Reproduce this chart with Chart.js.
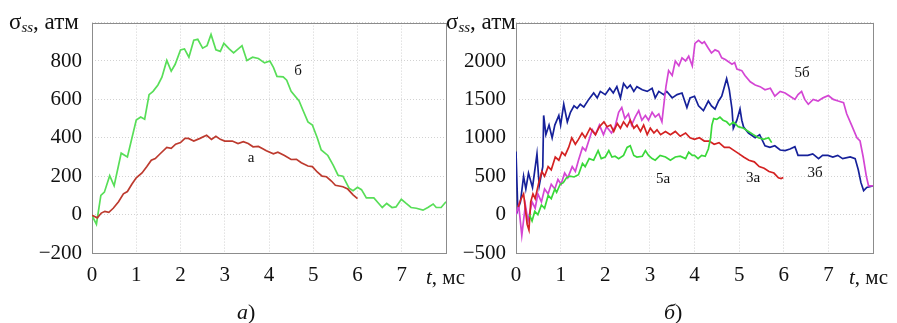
<!DOCTYPE html>
<html lang="ru">
<head>
    <meta charset="UTF-8">
    <title>σss(t)</title>
    <script src="https://cdn.jsdelivr.net/npm/chart.js"></script>
    <style>
        body { margin: 0; background: #fff; }
        #wrap { position: relative; width: 897px; height: 323px; overflow: hidden; font-family: "Liberation Serif", "DejaVu Serif", serif; color: #111; }
        canvas { position: absolute; top: 0; }
        .t { position: absolute; white-space: nowrap; line-height: 1; font-size: 21px; }
        .ttl { font-size: 23px; }
        .lbl { position: absolute; white-space: nowrap; line-height: 1; font-size: 15px; transform: translate(-50%, -50%); }
        sub { font-style: italic; font-size: 15px; vertical-align: -3px; line-height: 0; }
    </style>
</head>
<body>
<div id="wrap">
    <canvas id="chartA" width="456" height="323" style="left:0"></canvas>
    <canvas id="chartB" width="445" height="323" style="left:452px"></canvas>

    <div class="t ttl" style="left:9px; top:10px">σ<sub>ss</sub>, атм</div>
    <div class="t ttl" style="left:446px; top:10px">σ<sub>ss</sub>, атм</div>
    <div class="t" style="left:426px; top:267px"><i>t</i>, мс</div>
    <div class="t" style="left:849px; top:267px"><i>t</i>, мс</div>
    <div class="t" style="left:237px; top:301px; font-size:22px"><i>а</i>)</div>
    <div class="t" style="left:664px; top:301px; font-size:22px"><i>б</i>)</div>

    <div class="lbl" style="left:298px; top:70px">б</div>
    <div class="lbl" style="left:251px; top:157px">а</div>
    <div class="lbl" style="left:802px; top:72px">5б</div>
    <div class="lbl" style="left:663px; top:178px">5а</div>
    <div class="lbl" style="left:753px; top:177px">3а</div>
    <div class="lbl" style="left:815px; top:172px">3б</div>
</div>

<script>
    // panel a) : curves "а" and "б"
    const tA_b = [0, 0.1, 0.2, 0.28, 0.4, 0.5, 0.66, 0.8, 1.0, 1.1, 1.19, 1.29, 1.38, 1.49, 1.58, 1.69, 1.79, 1.88, 2.0, 2.09, 2.19, 2.3, 2.39, 2.5, 2.6, 2.69, 2.8, 2.9, 2.98, 3.1, 3.2, 3.39, 3.5, 3.63, 3.76, 3.9, 4.02, 4.1, 4.18, 4.32, 4.4, 4.5, 4.68, 4.77, 4.88, 4.98, 5.09, 5.18, 5.33, 5.45, 5.56, 5.67, 5.81, 5.9, 6.0, 6.09, 6.2, 6.37, 6.46, 6.56, 6.66, 6.78, 6.87, 6.99, 7.1, 7.21, 7.33, 7.48, 7.59, 7.71, 7.78, 7.89, 8.0];
    const vA_b = [-5, -50, 100, 117, 203, 150, 320, 300, 492, 508, 497, 625, 642, 675, 716, 803, 747, 783, 858, 863, 820, 908, 913, 867, 880, 938, 858, 850, 892, 863, 842, 880, 803, 820, 813, 790, 800, 767, 720, 717, 700, 642, 592, 542, 483, 467, 400, 337, 308, 258, 205, 200, 138, 125, 142, 130, 87, 87, 63, 37, 58, 37, 40, 80, 58, 37, 33, 23, 37, 55, 37, 37, 67];

    const tA_a = [0, 0.12, 0.21, 0.29, 0.38, 0.48, 0.6, 0.71, 0.8, 0.9, 1.0, 1.13, 1.24, 1.34, 1.43, 1.54, 1.69, 1.79, 1.89, 2.0, 2.1, 2.18, 2.3, 2.44, 2.59, 2.7, 2.8, 2.9, 3.0, 3.17, 3.3, 3.42, 3.53, 3.64, 3.76, 3.87, 3.94, 4.1, 4.2, 4.35, 4.5, 4.62, 4.73, 4.88, 4.98, 5.09, 5.2, 5.3, 5.41, 5.5, 5.67, 5.78, 5.9, 6.0];
    const vA_a = [-3, -17, 8, 17, 12, 33, 67, 108, 120, 158, 192, 217, 250, 283, 292, 317, 350, 345, 367, 375, 397, 397, 383, 397, 413, 392, 408, 392, 383, 383, 370, 380, 370, 353, 355, 342, 333, 317, 325, 308, 287, 288, 270, 253, 250, 222, 200, 197, 175, 153, 145, 133, 103, 83];

    // panel б) : curves 3а, 3б, 5а, 5б
    const tB_3b = [0, 0.04, 0.1, 0.17, 0.22, 0.28, 0.37, 0.47, 0.52, 0.6, 0.62, 0.67, 0.74, 0.81, 0.87, 0.96, 1.0, 1.07, 1.15, 1.22, 1.3, 1.37, 1.44, 1.52, 1.63, 1.74, 1.82, 1.89, 2.0, 2.1, 2.18, 2.26, 2.34, 2.41, 2.49, 2.56, 2.64, 2.71, 2.83, 2.94, 3.05, 3.12, 3.2, 3.31, 3.38, 3.5, 3.61, 3.72, 3.83, 3.9, 4.0, 4.09, 4.2, 4.31, 4.38, 4.46, 4.54, 4.61, 4.64, 4.72, 4.78, 4.84, 4.87, 4.95, 5.02, 5.06, 5.1, 5.21, 5.36, 5.46, 5.58, 5.69, 5.8, 5.92, 6.03, 6.14, 6.25, 6.32, 6.43, 6.54, 6.65, 6.78, 6.87, 6.99, 7.1, 7.21, 7.32, 7.49, 7.6, 7.67, 7.73, 7.79, 7.86, 8.0];
    const vB_3b = [820, 60, 166, 500, 333, 541, 354, 791, 375, 625, 1291, 1041, 1166, 1000, 1166, 1291, 1166, 1437, 1208, 1333, 1416, 1383, 1437, 1400, 1500, 1583, 1520, 1604, 1562, 1645, 1583, 1666, 1520, 1708, 1645, 1687, 1604, 1666, 1625, 1604, 1645, 1520, 1604, 1562, 1604, 1520, 1562, 1583, 1395, 1520, 1541, 1416, 1354, 1479, 1416, 1375, 1479, 1541, 1604, 1770, 1625, 1375, 1125, 1229, 1375, 1229, 1140, 1062, 1000, 1041, 896, 875, 896, 841, 833, 854, 885, 771, 771, 771, 791, 729, 771, 771, 750, 771, 729, 750, 729, 583, 416, 312, 354, 375];

    const tB_5b = [0, 0.06, 0.13, 0.21, 0.27, 0.36, 0.43, 0.49, 0.57, 0.64, 0.72, 0.79, 0.87, 0.94, 1.01, 1.09, 1.16, 1.26, 1.33, 1.4, 1.49, 1.56, 1.64, 1.71, 1.78, 1.87, 1.96, 2.03, 2.14, 2.22, 2.3, 2.37, 2.44, 2.52, 2.59, 2.67, 2.75, 2.82, 2.9, 2.97, 3.05, 3.12, 3.2, 3.27, 3.31, 3.36, 3.42, 3.5, 3.57, 3.65, 3.72, 3.8, 3.87, 3.95, 4.01, 4.09, 4.17, 4.22, 4.31, 4.38, 4.46, 4.54, 4.61, 4.69, 4.84, 4.9, 4.95, 5.06, 5.13, 5.25, 5.36, 5.47, 5.58, 5.7, 5.8, 5.92, 6.03, 6.14, 6.25, 6.32, 6.4, 6.47, 6.55, 6.66, 6.77, 6.88, 7.0, 7.11, 7.22, 7.34, 7.41, 7.52, 7.64, 7.71, 7.78, 7.85, 7.9, 8.0];
    const vB_5b = [0, 125, -271, 125, -83, 166, 83, 270, 166, 333, 270, 395, 333, 458, 395, 541, 479, 625, 562, 708, 875, 833, 979, 1104, 1041, 1166, 1041, 1145, 1062, 1145, 1333, 1395, 1250, 1312, 1166, 1270, 1354, 1229, 1291, 1229, 1333, 1270, 1312, 1208, 1416, 1666, 1875, 1812, 2000, 1937, 2041, 2000, 2062, 1937, 2229, 2270, 2229, 2250, 2166, 2104, 2145, 2125, 2041, 2020, 1958, 1979, 1895, 1875, 1812, 1729, 1687, 1666, 1625, 1645, 1541, 1604, 1583, 1541, 1500, 1562, 1604, 1500, 1437, 1500, 1479, 1520, 1550, 1500, 1479, 1458, 1312, 1166, 1000, 958, 750, 500, 375, 375];

    const tB_3a = [0.05, 0.1, 0.17, 0.25, 0.29, 0.33, 0.38, 0.43, 0.51, 0.58, 0.64, 0.72, 0.79, 0.88, 0.96, 1.03, 1.1, 1.18, 1.25, 1.33, 1.4, 1.48, 1.55, 1.66, 1.78, 1.87, 1.97, 2.04, 2.12, 2.19, 2.27, 2.34, 2.41, 2.49, 2.56, 2.64, 2.71, 2.79, 2.86, 2.94, 3.01, 3.09, 3.16, 3.24, 3.35, 3.46, 3.57, 3.68, 3.8, 3.9, 4.0, 4.11, 4.22, 4.33, 4.44, 4.55, 4.67, 4.78, 4.89, 5.0, 5.1, 5.22, 5.34, 5.45, 5.56, 5.67, 5.78, 5.88, 5.94, 5.99];
    const vB_3a = [100, 187, 270, -125, -200, 166, 270, 208, 416, 562, 500, 625, 583, 750, 708, 812, 770, 875, 1000, 916, 979, 1062, 1000, 1125, 1041, 1145, 1208, 1145, 1166, 1083, 1187, 1125, 1208, 1145, 1229, 1125, 1166, 1083, 1166, 1041, 1125, 1062, 1104, 1041, 1083, 1041, 1083, 1020, 1062, 1000, 979, 1000, 958, 958, 916, 937, 875, 875, 833, 791, 750, 708, 687, 625, 604, 562, 541, 479, 470, 483];

    const tB_5a = [0.3, 0.36, 0.42, 0.49, 0.57, 0.64, 0.72, 0.79, 0.87, 0.91, 0.99, 1.06, 1.13, 1.21, 1.3, 1.4, 1.49, 1.55, 1.64, 1.74, 1.84, 1.91, 2.0, 2.08, 2.15, 2.22, 2.3, 2.41, 2.49, 2.56, 2.64, 2.71, 2.83, 2.9, 2.97, 3.05, 3.12, 3.23, 3.35, 3.46, 3.57, 3.68, 3.8, 3.87, 3.95, 4.0, 4.08, 4.16, 4.24, 4.31, 4.36, 4.39, 4.43, 4.5, 4.57, 4.64, 4.72, 4.79, 4.87, 4.98, 5.1, 5.21, 5.32, 5.43, 5.55, 5.66, 5.73];
    const vB_5a = [0, -83, 41, 0, 125, 83, 250, 208, 333, 291, 395, 416, 479, 500, 490, 520, 666, 625, 729, 708, 833, 729, 750, 833, 750, 760, 729, 770, 875, 896, 770, 750, 760, 833, 770, 729, 708, 770, 750, 708, 750, 760, 729, 812, 770, 770, 729, 770, 760, 854, 1000, 1166, 1250, 1240, 1270, 1229, 1208, 1166, 1208, 1145, 1125, 1083, 1041, 1000, 979, 1000, 937];

    const xTicks = [0, 1, 2, 3, 4, 5, 6, 7];

    function pts(ts, vs) {
        return ts.map((t, i) => ({ x: t, y: vs[i] }));
    }

    function line(ts, vs, color) {
        return {
            data: pts(ts, vs),
            borderColor: color,
            borderWidth: 1.7,
            pointRadius: 0,
            tension: 0,
            fill: false
        };
    }

    const frame = {
        id: 'frame',
        beforeDatasetsDraw(chart) {
            const a = chart.chartArea;
            const c = chart.ctx;
            c.save();
            c.strokeStyle = '#8c8c8c';
            c.lineWidth = 1;
            c.strokeRect(Math.round(a.left) + 0.5, Math.round(a.top) + 0.5, Math.round(a.right - a.left), Math.round(a.bottom - a.top));
            c.restore();
        }
    };

    function minus(v) {
        return v < 0 ? '\u2212' + Math.abs(v) : String(v);
    }

    function makeOptions(yMin, yMax, yStep, yWidth, padRight) {
        return {
            responsive: false,
            animation: false,
            devicePixelRatio: 1,
            layout: { padding: { left: 0, top: 13, right: padRight, bottom: 30 } },
            plugins: { legend: { display: false }, tooltip: { enabled: false } },
            scales: {
                x: {
                    type: 'linear',
                    min: 0,
                    max: 8,
                    afterBuildTicks: s => { s.ticks = xTicks.concat([8]).map(v => ({ value: v })); },
                    afterFit: s => { s.height = 40; },
                    grid: { color: '#d2d2d2', drawTicks: false },
                    border: { display: false, dash: [1, 2] },
                    ticks: {
                        padding: 10,
                        color: '#111',
                        font: { family: 'Liberation Serif', size: 21 },
                        callback: v => (xTicks.includes(v) ? String(v) : '')
                    }
                },
                y: {
                    min: yMin,
                    max: yMax,
                    afterFit: s => { s.width = yWidth; },
                    grid: { color: '#d2d2d2', drawTicks: false },
                    border: { display: false, dash: [1, 2] },
                    ticks: {
                        stepSize: yStep,
                        padding: 10,
                        color: '#111',
                        font: { family: 'Liberation Serif', size: 21 },
                        callback: v => (v === yMax ? '' : minus(v))
                    }
                }
            }
        };
    }

    new Chart(document.getElementById('chartA'), {
        type: 'line',
        data: {
            datasets: [
                line(tA_a, vA_a, '#bd3a2e'),
                line(tA_b, vA_b, '#58de58')
            ]
        },
        options: makeOptions(-200, 1000, 200, 92, 10),
        plugins: [frame]
    });

    new Chart(document.getElementById('chartB'), {
        type: 'line',
        data: {
            datasets: [
                line(tB_5a, vB_5a, '#3ad83a'),
                line(tB_3a, vB_3a, '#d42222'),
                line(tB_5b, vB_5b, '#d446d4'),
                line(tB_3b, vB_3b, '#16219a')
            ]
        },
        options: makeOptions(-500, 2500, 500, 64, 24),
        plugins: [frame]
    });
</script>
</body>
</html>
